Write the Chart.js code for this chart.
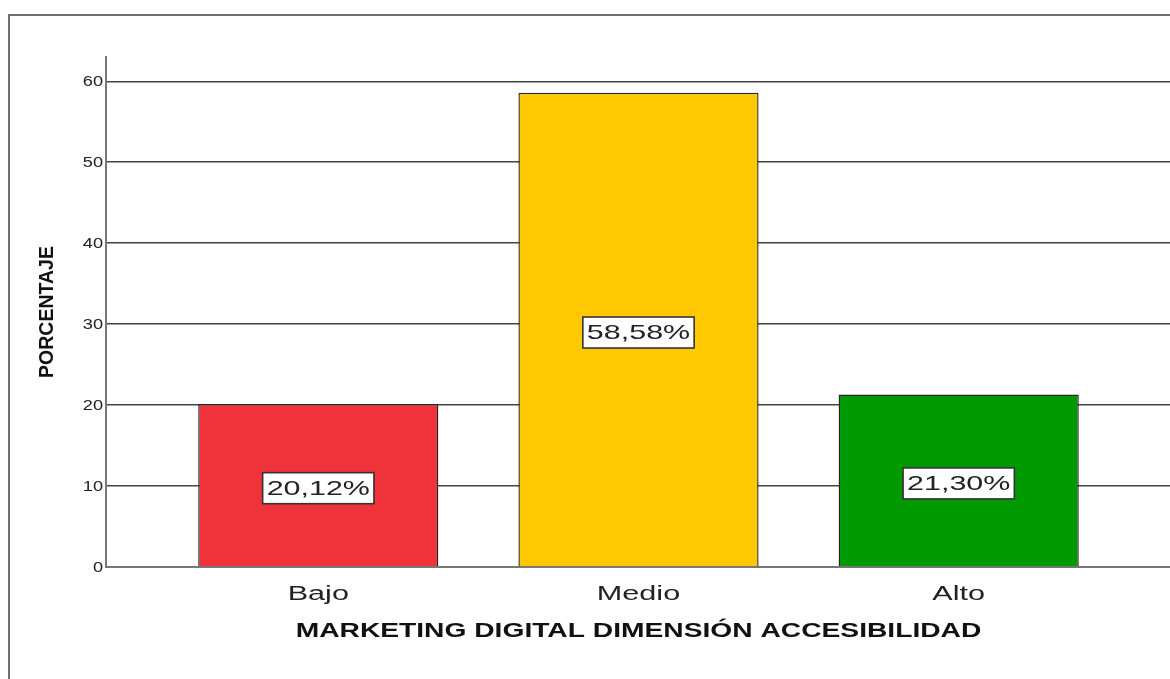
<!DOCTYPE html>
<html>
<head>
<meta charset="utf-8">
<script src="https://cdn.jsdelivr.net/npm/chart.js@4/dist/chart.umd.min.js"></script>
<style>
  html, body { margin: 0; padding: 0; background: #fff; overflow: hidden; }
  #wrap { position: relative; width: 1180px; height: 679px; }
</style>
</head>
<body>
<div id="wrap"><canvas id="myChart"></canvas></div>
<script>
// data
const categories = ['Bajo', 'Medio', 'Alto'];
const percents = [20.12, 58.58, 21.30];
const barColors = ['#f0323b', '#ffc800', '#009a00'];
const yTicks = [0, 10, 20, 30, 40, 50, 60];
const xTitle = 'MARKETING DIGITAL DIMENSIÓN ACCESIBILIDAD';
const yTitle = 'PORCENTAJE';

const FONT = '"Liberation Sans", Arial, sans-serif';

// the original figure has its text stretched sideways, so text is drawn by hand
function wideText(ctx, txt, x, y, sx) {
  ctx.save();
  ctx.translate(x, y);
  ctx.scale(sx, 1);
  ctx.fillText(txt, 0, 0);
  ctx.restore();
}

// outer frame around the whole figure
const framePlugin = {
  id: 'frame',
  beforeDraw(chart) {
    const ctx = chart.ctx;
    ctx.save();
    ctx.fillStyle = '#fff';
    ctx.fillRect(0, 0, chart.width, chart.height);
    ctx.strokeStyle = '#6e6e6e';
    ctx.lineWidth = 2;
    ctx.strokeRect(9, 15, chart.width + 20, chart.height + 20);
    ctx.restore();
  }
};

// axis labels and titles
const axisText = {
  id: 'axisText',
  afterDraw(chart) {
    const ctx = chart.ctx;
    const xs = chart.scales.x, ys = chart.scales.y;
    const area = chart.chartArea;
    ctx.save();
    ctx.fillStyle = '#222';
    ctx.textBaseline = 'middle';

    ctx.font = '14px ' + FONT;
    ctx.textAlign = 'right';
    yTicks.forEach(v => wideText(ctx, String(v), area.left - 3, ys.getPixelForValue(v) + 1, 1.3));

    ctx.font = '20px ' + FONT;
    ctx.textAlign = 'center';
    categories.forEach((c, i) => wideText(ctx, c, xs.getPixelForValue(i + 1), area.bottom + 27, 1.53));

    ctx.fillStyle = '#111';
    ctx.font = 'bold 20px ' + FONT;
    wideText(ctx, xTitle, (area.left + area.right) / 2, area.bottom + 64, 1.41);

    ctx.translate(48, (area.top + area.bottom) / 2);
    ctx.rotate(-Math.PI / 2);
    ctx.font = 'bold 19.5px ' + FONT;
    ctx.fillText(yTitle, 0, 0);
    ctx.restore();
  }
};

// boxed percentage labels in the middle of each bar
const boxLabels = {
  id: 'boxLabels',
  afterDatasetsDraw(chart) {
    const ctx = chart.ctx;
    const meta = chart.getDatasetMeta(0);
    const sx = 1.45;
    ctx.save();
    ctx.font = '21px ' + FONT;
    ctx.textAlign = 'center';
    ctx.textBaseline = 'middle';
    meta.data.forEach((bar, i) => {
      const txt = percents[i].toFixed(2).replace('.', ',') + '%';
      const cx = bar.x;
      const cy = (bar.y + bar.base) / 2 + 3;
      const w = ctx.measureText(txt).width * sx + 8;
      const h = 31;
      ctx.fillStyle = '#fff';
      ctx.fillRect(cx - w / 2, cy - h / 2, w, h);
      ctx.strokeStyle = '#333';
      ctx.lineWidth = 1.6;
      ctx.strokeRect(cx - w / 2, cy - h / 2, w, h);
      ctx.fillStyle = '#222';
      wideText(ctx, txt, cx, cy + 1, sx);
    });
    ctx.restore();
  }
};

const data = {
  datasets: [{
    data: percents.map((v, i) => ({ x: i + 1, y: v })),
    backgroundColor: barColors,
    borderColor: '#262626',
    borderWidth: 1.4,
    barPercentage: 0.75,
    categoryPercentage: 1
  }]
};

const config = {
  type: 'bar',
  data,
  options: {
    responsive: true,
    maintainAspectRatio: false,
    animation: false,
    layout: { padding: { left: 106, top: 57, right: 9, bottom: 112 } },
    plugins: {
      legend: { display: false },
      tooltip: { enabled: false }
    },
    scales: {
      x: {
        type: 'linear',
        offset: false,
        min: 0.337,
        max: 3.663,
        afterBuildTicks: (scale) => { scale.ticks = categories.map((c, i) => ({ value: i + 1 })); },
        grid: { display: false, drawTicks: false },
        border: { display: true, color: '#777', width: 2 },
        ticks: { display: false }
      },
      y: {
        min: 0,
        max: 63,
        afterBuildTicks: (scale) => { scale.ticks = yTicks.map(v => ({ value: v })); },
        grid: { color: '#444', lineWidth: 1.5, drawTicks: false },
        border: { display: true, color: '#777', width: 2 },
        ticks: { display: false }
      }
    }
  },
  plugins: [framePlugin, boxLabels, axisText]
};

const myChart = new Chart(document.getElementById('myChart'), config);
</script>
</body>
</html>
